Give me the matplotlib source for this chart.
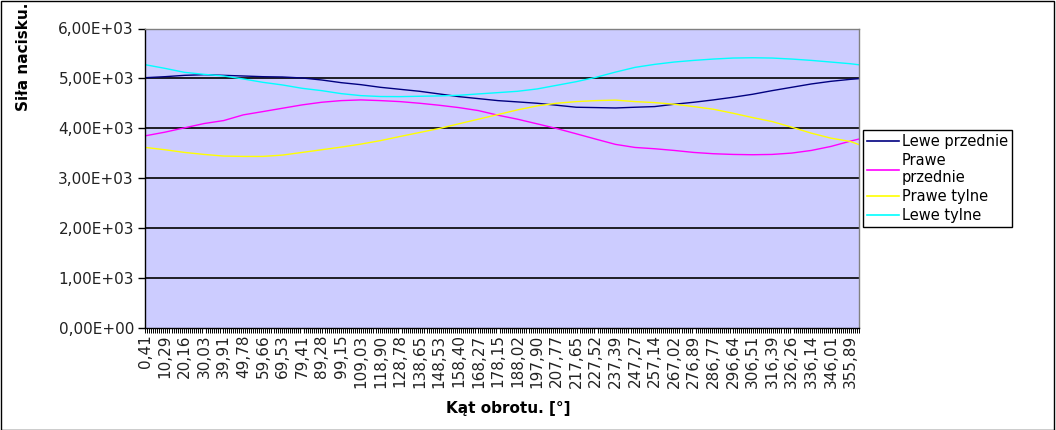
import numpy as np
import matplotlib
matplotlib.use("Agg")
import matplotlib.pyplot as plt
from matplotlib.patches import Rectangle
from matplotlib.lines import Line2D

# Category axis: 875 angle samples, labels every 24th sample
n_cat = 875
angle_step = 360.0 / n_cat
angles = [(i + 1) * angle_step for i in range(n_cat)]
label_every = 24

sample_idx = [24 * k for k in range(37)] + [874]

lewe_przednie = [5013, 5033, 5060, 5073, 5060, 5047, 5033, 5027, 5007, 4967, 4913, 4873, 4820,
                 4780, 4740, 4687, 4633, 4593, 4553, 4527, 4500, 4460, 4420, 4413, 4405,
                 4420, 4433, 4480, 4520, 4567, 4620, 4680, 4753, 4820, 4887, 4940, 4980, 4993]
prawe_przednie = [3847, 3920, 4007, 4093, 4153, 4267, 4333, 4400, 4467, 4520, 4553, 4567, 4553,
                  4533, 4500, 4460, 4413, 4353, 4260, 4180, 4087, 3993, 3887, 3780, 3675,
                  3613, 3587, 3553, 3513, 3487, 3473, 3467, 3473, 3500, 3553, 3633, 3740, 3780]
prawe_tylne = [3613, 3567, 3513, 3473, 3440, 3433, 3433, 3460, 3513, 3567, 3620, 3680, 3750,
               3833, 3913, 3993, 4087, 4180, 4273, 4367, 4447, 4500, 4533, 4553, 4563,
               4533, 4513, 4480, 4433, 4380, 4300, 4213, 4133, 4020, 3900, 3800, 3733, 3673]
lewe_tylne = [5273, 5200, 5120, 5080, 5047, 4987, 4920, 4867, 4800, 4753, 4693, 4653, 4635,
              4633, 4640, 4647, 4660, 4687, 4713, 4740, 4787, 4860, 4933, 5020, 5125,
              5220, 5280, 5327, 5360, 5387, 5407, 5413, 5407, 5387, 5360, 5327, 5293, 5273]

series_names = ["Lewe przednie", "Prawe\nprzednie", "Prawe tylne", "Lewe tylne"]
series_data = [lewe_przednie, prawe_przednie, prawe_tylne, lewe_tylne]
series_colors = ["#000080", "#FF00FF", "#FFFF00", "#00FFFF"]

y_ticks = [0, 1000, 2000, 3000, 4000, 5000, 6000]
y_tick_labels = ["0,00E+00", "1,00E+03", "2,00E+03", "3,00E+03", "4,00E+03", "5,00E+03", "6,00E+03"]

W, H = 1056, 430
fig = plt.figure(figsize=(W / 100, H / 100), dpi=100)
ax = fig.add_axes([145 / W, 1 - 327.5 / H, (859 - 145) / W, (327.5 - 28.5) / H])
ax.set_facecolor("#CCCCFF")

x = [i + 0.5 for i in sample_idx]
for name, data, col in zip(series_names, series_data, series_colors):
    ax.plot(x, data, color=col, lw=1.0, label=name)

ax.set_xlim(0, n_cat)
ax.set_ylim(0, 6000)
ax.set_yticks(y_ticks)
ax.set_yticklabels(y_tick_labels, fontsize=11, color="#222222")
for yv in y_ticks[1:]:
    ax.axhline(yv, color="black", lw=1.2, zorder=1)

major = list(range(0, n_cat, label_every))
ax.set_xticks([i + 0.5 for i in major])
ax.set_xticklabels([f"{angles[i]:.2f}".replace(".", ",") for i in major],
                   rotation=90, fontsize=11, color="#222222")
ax.set_xticks(list(np.arange(0, n_cat + 0.1, 2.5)), minor=True)
ax.tick_params(axis="x", which="major", length=0, pad=5)
ax.tick_params(axis="x", which="minor", length=3.5, width=0.7, color="black", direction="out")
ax.tick_params(axis="y", length=5, width=1, color="black", pad=3)

for s in ["top", "right"]:
    ax.spines[s].set_color("#808080")
    ax.spines[s].set_linewidth(1)
for s in ["left", "bottom"]:
    ax.spines[s].set_color("black")
    ax.spines[s].set_linewidth(1)

fig.text(24 / W, 1 - 57 / H, "Siła nacisku.", rotation=90, ha="center", va="center",
         fontsize=11, fontweight="bold")
fig.text(508 / W, 1 - 408 / H, "Kąt obrotu. [°]", ha="center", va="center",
         fontsize=11, fontweight="bold")

handles = [Line2D([0], [0], color=c, lw=1.2) for c in series_colors]
leg = fig.legend(handles, series_names, loc="upper left",
                 bbox_to_anchor=(863 / W, 1 - 130 / H), fontsize=10.5,
                 frameon=True, fancybox=False, edgecolor="black", framealpha=1,
                 handlelength=2.2, handletextpad=0.15, borderpad=0.3,
                 labelspacing=0.25, borderaxespad=0)
leg.get_frame().set_linewidth(1)

fig.patches.append(Rectangle((0.0005, 0.001), 0.998, 0.997, transform=fig.transFigure,
                             fill=False, edgecolor="black", lw=1))

fig.savefig("out.png", dpi=100)
